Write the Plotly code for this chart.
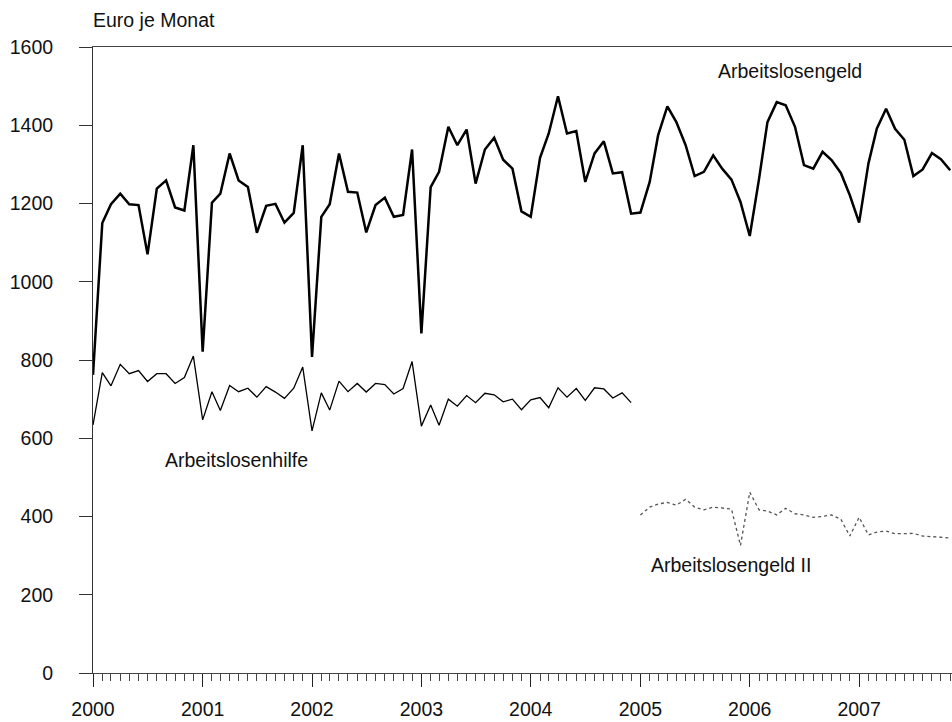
import pandas as pd
import plotly.graph_objects as go

# Arbeitslosengeld, monthly Jan 2000 - Nov 2007 (Euro je Monat)
alg = [
    762, 1150, 1198, 1225, 1198, 1196, 1070, 1238, 1259, 1190, 1182, 1349,
    821, 1202, 1225, 1328, 1259, 1242, 1125, 1194, 1199, 1151, 1176, 1349,
    808, 1166, 1198, 1328, 1230, 1228, 1126, 1196, 1215, 1166, 1171, 1338,
    868, 1242, 1281, 1396, 1349, 1389, 1251, 1338, 1368, 1312, 1289, 1180,
    1166, 1317, 1379, 1474, 1379, 1385, 1255, 1328, 1359, 1277, 1280, 1174,
    1177, 1255, 1374, 1448, 1408, 1349, 1270, 1281, 1323, 1289, 1261, 1204,
    1117, 1263, 1408, 1459, 1451, 1396, 1298, 1289, 1332, 1311, 1278, 1221,
    1151, 1302, 1391, 1442, 1391, 1363, 1270, 1287, 1329, 1313, 1285,
]
# Arbeitslosenhilfe, monthly Jan 2000 - Dec 2004
alhi = [
    634, 768, 734, 789, 765, 773, 745, 765, 765, 740, 755, 810,
    647, 719, 671, 735, 719, 728, 705, 732, 718, 702, 728, 782,
    619, 716, 672, 746, 719, 740, 718, 740, 737, 713, 727, 796,
    631, 685, 633, 700, 682, 709, 691, 715, 711, 693, 700, 673,
    698, 704, 678, 729, 705, 727, 697, 729, 726, 703, 716, 691,
]
# Arbeitslosengeld II, monthly Jan 2005 - Nov 2007
alg2 = [
    404, 424, 432, 436, 429, 444, 424, 417, 424, 421, 419, 326,
    462, 417, 414, 404, 421, 407, 404, 398, 400, 404, 393, 350,
    398, 353, 360, 363, 356, 356, 357, 350, 349, 347, 345,
]

alg_dates = pd.date_range("2000-01-01", periods=len(alg), freq="MS")
alhi_dates = pd.date_range("2000-01-01", periods=len(alhi), freq="MS")
alg2_dates = pd.date_range("2005-01-01", periods=len(alg2), freq="MS")

y_ticks = [0, 200, 400, 600, 800, 1000, 1200, 1400, 1600]

FONT = "Liberation Sans, Arial, sans-serif"
TXT = "#111111"
FS = 19.5

fig = go.Figure()
fig.add_trace(go.Scatter(x=alg_dates, y=alg, mode="lines",
                         line=dict(color="#000000", width=2.5), name="Arbeitslosengeld"))
fig.add_trace(go.Scatter(x=alhi_dates, y=alhi, mode="lines",
                         line=dict(color="#000000", width=1.3), name="Arbeitslosenhilfe"))
fig.add_trace(go.Scatter(x=alg2_dates, y=alg2, mode="lines",
                         line=dict(color="#555555", width=1.3, dash="dot"),
                         name="Arbeitslosengeld II"))

annotations = [
    dict(x="2006-05-14", y=1538, text="Arbeitslosengeld", xref="x", yref="y",
         showarrow=False, xanchor="center", yanchor="middle"),
    dict(x="2001-04-23", y=545, text="Arbeitslosenhilfe", xref="x", yref="y",
         showarrow=False, xanchor="center", yanchor="middle"),
    dict(x="2005-10-29", y=276, text="Arbeitslosengeld II", xref="x", yref="y",
         showarrow=False, xanchor="center", yanchor="middle"),
    dict(x=0, y=1, text="Euro je Monat", xref="paper", yref="paper",
         showarrow=False, xanchor="left", yanchor="middle", yshift=27, xshift=-2),
]

fig.update_layout(
    width=952, height=722,
    margin=dict(l=93, r=0, t=47, b=49),
    paper_bgcolor="white", plot_bgcolor="white",
    showlegend=False,
    font=dict(family=FONT, size=FS, color=TXT),
    annotations=annotations,
)
fig.update_xaxes(
    type="date",
    range=["2000-01-01", "2007-11-07"],
    tick0="2000-01-01", dtick="M12", tickformat="%Y",
    ticks="outside", ticklen=13, tickwidth=1, tickcolor="#222222",
    minor=dict(dtick="M1", ticks="outside", ticklen=7, tickwidth=1, tickcolor="#444444"),
    showline=True, linecolor="#444444", linewidth=1, mirror=True,
    showgrid=False, zeroline=False,
    ticklabelstandoff=6,
    tickfont=dict(family=FONT, size=FS, color=TXT),
)
fig.update_yaxes(
    range=[0, 1600], tickvals=y_ticks,
    ticks="outside", ticklen=13, tickwidth=1, tickcolor="#333333",
    showline=True, linecolor="#333333", linewidth=1,
    showgrid=False, zeroline=False,
    ticklabelstandoff=22,
    tickfont=dict(family=FONT, size=FS, color=TXT),
)

fig.write_html("out.html", config={"displayModeBar": False},
               post_script="document.body.style.margin='0';")
